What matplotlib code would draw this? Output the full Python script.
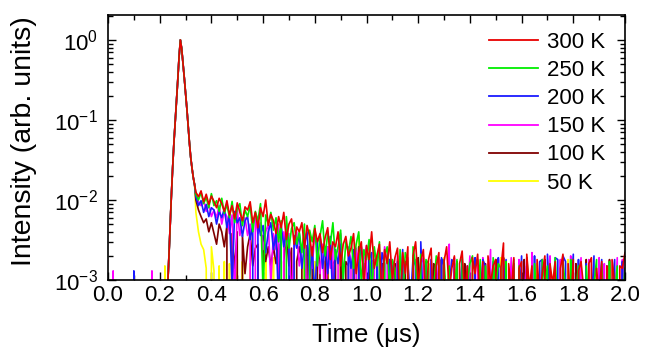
import numpy as np
import matplotlib
matplotlib.use("Agg")
import matplotlib.pyplot as plt
from matplotlib.ticker import MultipleLocator, LogLocator, NullFormatter, FormatStrFormatter, FixedLocator, FixedFormatter

plt.rcParams['font.family'] = ['Liberation Sans', 'DejaVu Sans']
plt.rcParams['mathtext.fontset'] = 'custom'
plt.rcParams['mathtext.rm'] = 'Liberation Sans'
plt.rcParams['mathtext.it'] = 'Liberation Sans'

# ---------------- data ----------------
labels = ["300 K", "250 K", "200 K", "150 K", "100 K", "50 K"]
colors = ["#e80000", "#00ee00", "#1a1aff", "#ff00ff", "#800000", "#ffff00"]

# time grids (µs)
t_pre = np.round(np.arange(0.00, 0.2201, 0.01), 3)      # 23 points
t_peak = np.round(np.arange(0.225, 0.3351, 0.005), 3)   # 23 points
t_tail = np.round(np.arange(0.34, 2.0001, 0.01), 3)     # 167 points

unit = 1e-4  # intensities below are listed in units of 1e-4 (normalised)

# shared normalised pulse shape, 0.225 - 0.335 µs
peak_profile = [0.0, 0.0007, 0.0018, 0.005, 0.011, 0.025, 0.052, 0.095,
                0.17, 0.32, 0.62, 1.0, 0.78, 0.52, 0.34, 0.22, 0.14,
                0.085, 0.052, 0.034, 0.025, 0.019, 0.0155]

# before the pulse, 0.00 - 0.22 µs (units of 1e-4)
pre_300 = [0]*23
pre_250 = [0]*23
pre_200 = [0,0,0,0,0,0,0,0,0,0,13,0,0,0,0,0,0,0,0,0,0,0,0]
pre_150 = [0,0,13,0,0,0,0,0,0,0,0,0,0,0,0,0,0,13,0,0,0,0,0]
pre_100 = [0]*23
pre_50  = [0,0,0,0,0,0,0,0,0,0,0,0,0,0,0,0,0,0,0,0,0,0,15]

# tail, 0.34 - 2.00 µs (units of 1e-4)
tail_300 = [125,110,130,95,118,88,112,96,80,105,
            90,72,98,65,85,58,92,70,55,82,
            75,95,52,70,45,80,62,100,48,66,
            55,38,62,45,70,32,50,58,28,46,
            40,52,25,48,35,20,44,30,38,22,
            34,45,18,30,26,40,15,28,35,20,
            25,38,12,22,30,8,27,18,40,14,
            20,28,6,24,16,30,10,19,25,4,
            22,12,26,0,20,30,9,17,24,5,
            18,25,3,15,22,0,17,26,7,14,
            20,0,16,23,6,15,0,19,12,21,
            4,17,0,20,9,15,18,0,14,29,
            0,16,7,19,0,14,17,0,21,8,
            15,0,18,6,12,20,0,16,9,17,
            0,14,21,0,16,5,18,0,13,17,
            8,0,16,19,0,14,6,17,0,15,
            0,18,9,0,15,14,22]
tail_250 = [118,100,125,90,108,80,120,85,98,72,
            105,68,88,60,96,52,78,90,48,75,
            62,85,40,72,55,90,7,65,50,70,
            42,60,30,55,0,62,25,44,52,28,
            40,22,50,0,42,30,48,15,35,55,
            20,38,28,52,18,26,42,10,30,22,
            35,14,28,40,9,24,18,32,6,26,
            15,30,0,20,26,8,18,14,3,24,
            5,22,17,0,26,15,6,21,0,18,
            16,0,8,20,15,0,18,5,15,0,
            7,18,0,19,4,9,16,20,0,6,
            18,0,15,5,0,19,8,16,14,0,
            17,0,6,18,0,15,3,0,19,7,
            0,16,5,0,18,9,15,0,6,19,
            4,0,17,8,0,18,0,7,15,0,
            0,15,5,0,9,18,0,16,4,0,
            17,0,6,15,0,5,14]
tail_200 = [110,85,98,70,88,62,80,75,50,72,
            60,78,45,68,8,72,52,60,35,55,
            62,32,50,0,58,36,48,22,40,52,
            24,38,5,48,26,40,28,0,36,25,
            38,14,28,40,10,26,6,30,36,14,
            26,12,35,5,24,16,28,13,0,25,
            14,24,0,16,26,12,4,18,22,0,
            17,3,22,16,0,18,15,0,17,6,
            24,0,16,5,19,15,0,30,4,16,
            0,18,6,16,0,19,15,0,8,18,
            16,0,5,18,0,15,7,0,19,0,
            6,18,15,0,5,17,0,19,0,9,
            18,0,6,16,0,4,20,0,15,0,
            0,20,0,17,18,0,21,5,0,19,
            18,0,20,17,0,6,21,0,18,0,
            0,16,0,5,20,0,7,18,0,15,
            0,6,18,0,0,17,0]
tail_150 = [120,95,85,100,72,88,62,75,60,85,
            50,72,62,38,65,6,75,36,52,60,
            36,50,0,62,38,52,24,40,50,9,
            38,24,50,0,40,26,38,5,28,40,
            15,26,38,4,28,14,40,25,12,28,
            3,26,14,28,0,16,38,13,0,26,
            17,0,25,16,0,18,27,0,17,18,
            0,19,6,26,17,0,18,5,20,0,
            16,0,19,4,0,18,0,16,19,0,
            5,18,0,6,19,0,18,0,28,0,
            19,0,4,18,0,5,20,0,0,18,
            0,19,0,6,24,0,0,18,0,5,
            0,4,19,0,0,18,0,6,19,0,
            22,0,0,5,18,0,0,20,0,0,
            0,18,0,4,0,20,0,0,6,19,
            0,0,18,0,5,0,19,0,16,0,
            0,0,4,19,0,18,0]
tail_100 = [100,75,62,52,58,40,52,38,28,50,
            40,26,48,0,38,14,40,0,36,12,
            26,38,15,25,28,0,36,17,26,15,
            26,16,28,0,17,38,15,25,0,17,
            26,16,0,27,17,15,0,26,16,0,
            17,26,0,16,18,0,25,0,17,15,
            0,17,0,26,0,16,0,18,0,16,
            17,0,16,0,5,18,0,16,0,0,
            0,17,0,0,16,0,19,0,0,17,
            0,0,16,0,0,18,0,0,19,0,
            0,17,0,0,16,0,0,0,18,0,
            0,0,16,0,0,0,18,0,0,19,
            0,0,0,16,0,0,0,18,0,0,
            16,0,0,0,0,18,0,0,0,0,
            0,0,18,0,0,0,0,16,0,0,
            0,18,0,0,0,0,16,0,0,0,
            18,0,0,0,0,16,0]
tail_50 = [70,40,28,24,14,0,26,13,0,15,
           0,17,0,16,0,0,18,0,17,0,
           0,16,0,0,18,0,0,17,0,0,
           19,0,0,0,17,0,0,0,16,0,
           0,0,18,0,0,0,17,0,0,0,
           0,16,0,0,0,0,18,0,0,0,
           0,0,0,36,0,0,0,0,17,0,
           0,0,16,0,0,0,0,0,18,0,
           0,0,0,0,17,0,0,0,0,0,
           16,0,0,0,0,0,19,0,0,0,
           0,0,0,18,0,0,0,0,0,0,
           0,16,0,0,0,0,0,0,19,0,
           0,0,0,0,0,17,0,0,0,0,
           0,0,16,0,0,0,0,0,0,0,
           0,0,0,0,18,0,0,0,0,0,
           0,0,0,0,0,0,16,0,0,0,
           0,0,0,0,0,0,0]

pre_vals = [pre_300, pre_250, pre_200, pre_150, pre_100, pre_50]
tail_vals = [tail_300, tail_250, tail_200, tail_150, tail_100, tail_50]

x_ticks = [0.0, 0.2, 0.4, 0.6, 0.8, 1.0, 1.2, 1.4, 1.6, 1.8, 2.0]
y_ticks = [1e-3, 1e-2, 1e-1, 1]
y_ticklabels = [r'$10^{-3}$', r'$10^{-2}$', r'$10^{-1}$', r'$10^{0}$']

# ---------------- figure ----------------
W, H = 647, 354
fig = plt.figure(figsize=(W/100, H/100), dpi=100)
ax = fig.add_axes([108/W, 74/H, 517/W, 265/H])

t_all = np.concatenate([t_pre, t_peak, t_tail])
lines = []
for i in reversed(range(len(labels))):
    y = np.concatenate([np.array(pre_vals[i]) * unit,
                        np.array(peak_profile),
                        np.array(tail_vals[i]) * unit])
    ln, = ax.plot(t_all, y, color=colors[i], lw=1.2, label=labels[i])
    lines.append(ln)
lines = lines[::-1]

ax.set_yscale('log', nonpositive='clip')
ax.set_xlim(0, 2.0)
ax.set_ylim(1e-3, 2.05)

ax.xaxis.set_major_locator(FixedLocator(x_ticks))
ax.xaxis.set_major_formatter(FormatStrFormatter('%.1f'))
ax.xaxis.set_minor_locator(MultipleLocator(0.1))
ax.yaxis.set_major_locator(FixedLocator(y_ticks))
ax.yaxis.set_major_formatter(FixedFormatter(y_ticklabels))
ax.yaxis.set_minor_locator(LogLocator(base=10, subs=np.arange(2, 10), numticks=10))
ax.yaxis.set_minor_formatter(NullFormatter())

ax.tick_params(which='both', direction='in', top=True, right=True, labelsize=16,
               width=1.0, color='black')
ax.tick_params(which='major', length=6)
ax.tick_params(which='minor', length=3.5)
ax.tick_params(axis='y', which='major', pad=7)
for s in ax.spines.values():
    s.set_linewidth(1.2)

ax.set_xlabel('Time (μs)', fontsize=18.5, labelpad=12)
ax.set_ylabel('Intensity (arb. units)', fontsize=20.5, labelpad=7)
ax.yaxis.set_label_coords(-0.137, 0.525)

leg = ax.legend(handles=lines, loc='upper left',
                bbox_to_anchor=((489-108)/517, 1 - (32-15)/265),
                frameon=False, fontsize=16, handlelength=2.2, handletextpad=0.4,
                labelspacing=0.32, borderpad=0, borderaxespad=0)
for h in leg.get_lines():
    h.set_linewidth(1.3)

fig.savefig('out.png', dpi=100)
